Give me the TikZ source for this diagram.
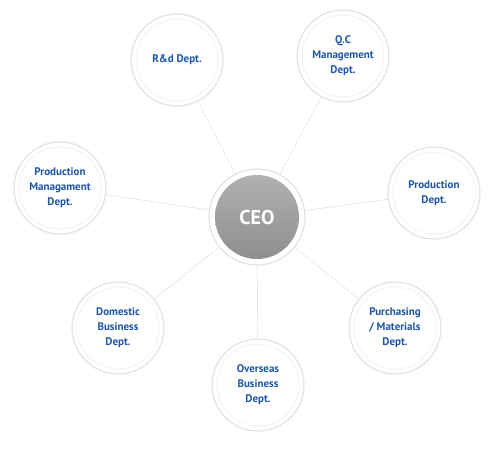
\documentclass[tikz,border=0pt]{standalone}
\usepackage{fontspec}
\setmainfont{PT Sans}
\usepackage{xcolor}
\usepackage{tikz}
\usetikzlibrary{positioning}
\definecolor{deptcolor}{RGB}{31,86,166}
\definecolor{ringcolor}{RGB}{226,226,226}
\definecolor{linkcolor}{RGB}{230,230,230}
\tikzset{
  dept/.style={
    circle,
    draw=ringcolor,
    fill=white,
    line width=1.2pt,
    minimum size=92pt,
    align=center,
    text=deptcolor,
    font=\fontsize{11}{15}\selectfont\bfseries,
    path picture={\draw[black!5, line width=0.8pt]
      (path picture bounding box.center) circle (41pt);}
  },
  boss/.style={
    circle,
    draw=ringcolor,
    fill=white,
    line width=1.2pt,
    minimum size=96pt,
    text=white,
    font=\fontsize{20}{22}\selectfont\bfseries,
    path picture={\shade[top color=black!30, bottom color=black!45]
      (path picture bounding box.center) circle (42pt);}
  },
  link/.style={
    draw=linkcolor,
    line width=0.7pt
  }
}
\begin{document}
\begin{tikzpicture}[x=1pt,y=-1pt]
  \useasboundingbox (0,0) rectangle (500,458);
  % CEO and departments
  \node[boss] (ceo) at (257,217) {CEO};
  \node[dept] (rnd) at (177,60) {R\&d Dept.};
  \node[dept] (qc) at (343,56) {Q.C\\Management\\Dept.};
  \node[dept] (prodmgmt) at (60,188) {Production\\Managament\\Dept.};
  \node[dept] (prod) at (434,193) {Production\\Dept.};
  \node[dept] (domestic) at (118,328) {Domestic\\Business\\Dept.};
  \node[dept] (purchasing) at (395,328) {Purchasing\\/ Materials\\Dept.};
  \node[dept] (overseas) at (258,385) {Overseas\\Business\\Dept.};

  \foreach \d in {rnd,qc,prodmgmt,prod,domestic,purchasing,overseas}
    \draw[link] (ceo) -- (\d);
\end{tikzpicture}
\end{document}
